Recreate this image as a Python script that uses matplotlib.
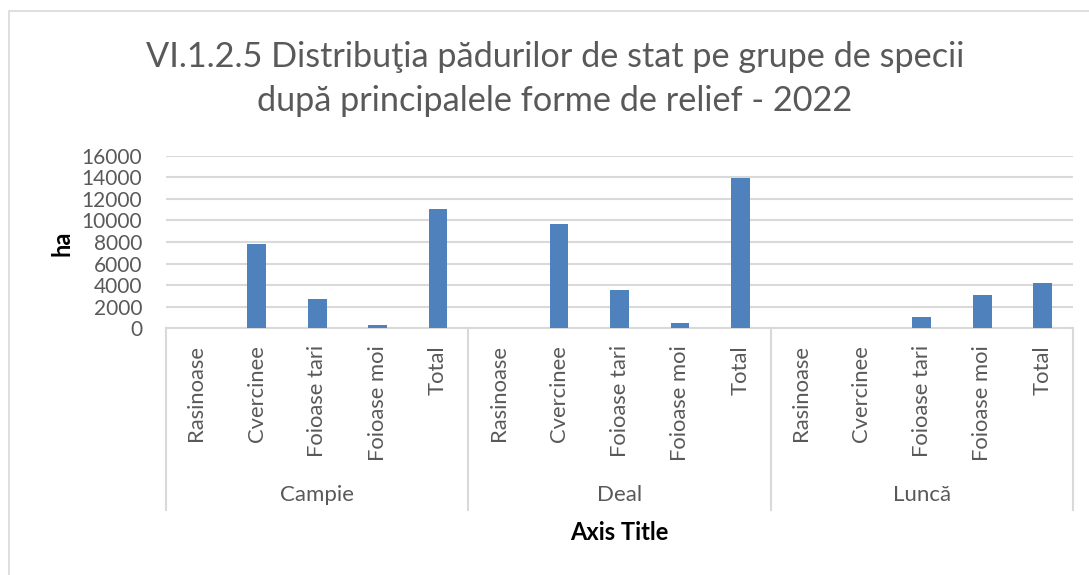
import matplotlib
matplotlib.use('Agg')
import matplotlib.pyplot as plt
from matplotlib.patches import Rectangle
import numpy as np

# values (ha)
groups = ['Campie', 'Deal', 'Luncă']
species = ['Rasinoase', 'Cvercinee', 'Foioase tari', 'Foioase moi', 'Total']
campie = [0, 7800, 2750, 280, 11050]
deal = [30, 9650, 3520, 460, 13950]
lunca = [0, 0, 1050, 3060, 4200]
yticks = [0, 2000, 4000, 6000, 8000, 10000, 12000, 14000, 16000]

values = campie + deal + lunca
labels = species * len(groups)

plt.rcParams['font.family'] = ['Lato', 'DejaVu Sans']
grey = '#595959'
line_grey = '#d9d9d9'

fig = plt.figure(figsize=(10.89, 5.75), dpi=100)
W, H = 1089, 575

# chart border (runs off the right and bottom edge like the screenshot)
fig.patches.append(Rectangle((9 / W, -0.1), 1.2, 1 - 11 / H + 0.1,
                             transform=fig.transFigure, fill=False,
                             edgecolor=line_grey, linewidth=1.2))

ax = fig.add_axes([166 / W, 1 - 328.3 / H, (1073 - 166) / W, (328.3 - 155.7) / H])
x = np.arange(len(values))
ax.bar(x, values, width=0.31, color='#4f81bd', zorder=3)

ax.set_xlim(-0.5, len(values) - 0.5)
ax.set_ylim(0, 16000)
ax.set_yticks(yticks)
ax.set_yticklabels([str(v) for v in yticks], fontsize=15, color=grey)
ax.yaxis.grid(True, color=line_grey, linewidth=1.5, zorder=0)
ax.tick_params(axis='y', length=0, pad=17)

ax.set_xticks(x)
ax.set_xticklabels(labels, rotation=90, fontsize=15.8, color=grey, va='top')
ax.tick_params(axis='x', length=0, pad=12)

for side in ['top', 'right', 'left']:
    ax.spines[side].set_visible(False)
ax.spines['bottom'].set_color(line_grey)
ax.spines['bottom'].set_linewidth(1.5)

# group separators and group names below the tick labels
trans = ax.get_xaxis_transform()
sep_bottom = -(510 - 328.3) / (328.3 - 155.7)
for k in range(len(groups) + 1):
    xs = k * len(species) - 0.5
    ax.plot([xs, xs], [0, sep_bottom], transform=trans, color=line_grey,
            linewidth=1.5, clip_on=False)
grp_y = -(495 - 328.3) / (328.3 - 155.7)
for k, g in enumerate(groups):
    ax.text(k * len(species) + (len(species) - 1) / 2, grp_y, g, transform=trans,
            ha='center', va='center', fontsize=16, color=grey)

fig.text(619 / W, 1 - 532 / H, 'Axis Title', ha='center', va='center',
         fontsize=17, fontweight='bold', color='black')
fig.text(62 / W, 1 - 243 / H, 'ha', ha='center', va='center', rotation=90,
         fontsize=17, fontweight='bold', color='black')

fig.text(555 / W, 1 - 57 / H, 'VI.1.2.5 Distribuţia pădurilor de stat pe grupe de specii',
         ha='center', va='center', fontsize=24.7, color=grey)
fig.text(555 / W, 1 - 101 / H, 'după principalele forme de relief - 2022',
         ha='center', va='center', fontsize=24.7, color=grey)

fig.savefig('out.png', dpi=100)
